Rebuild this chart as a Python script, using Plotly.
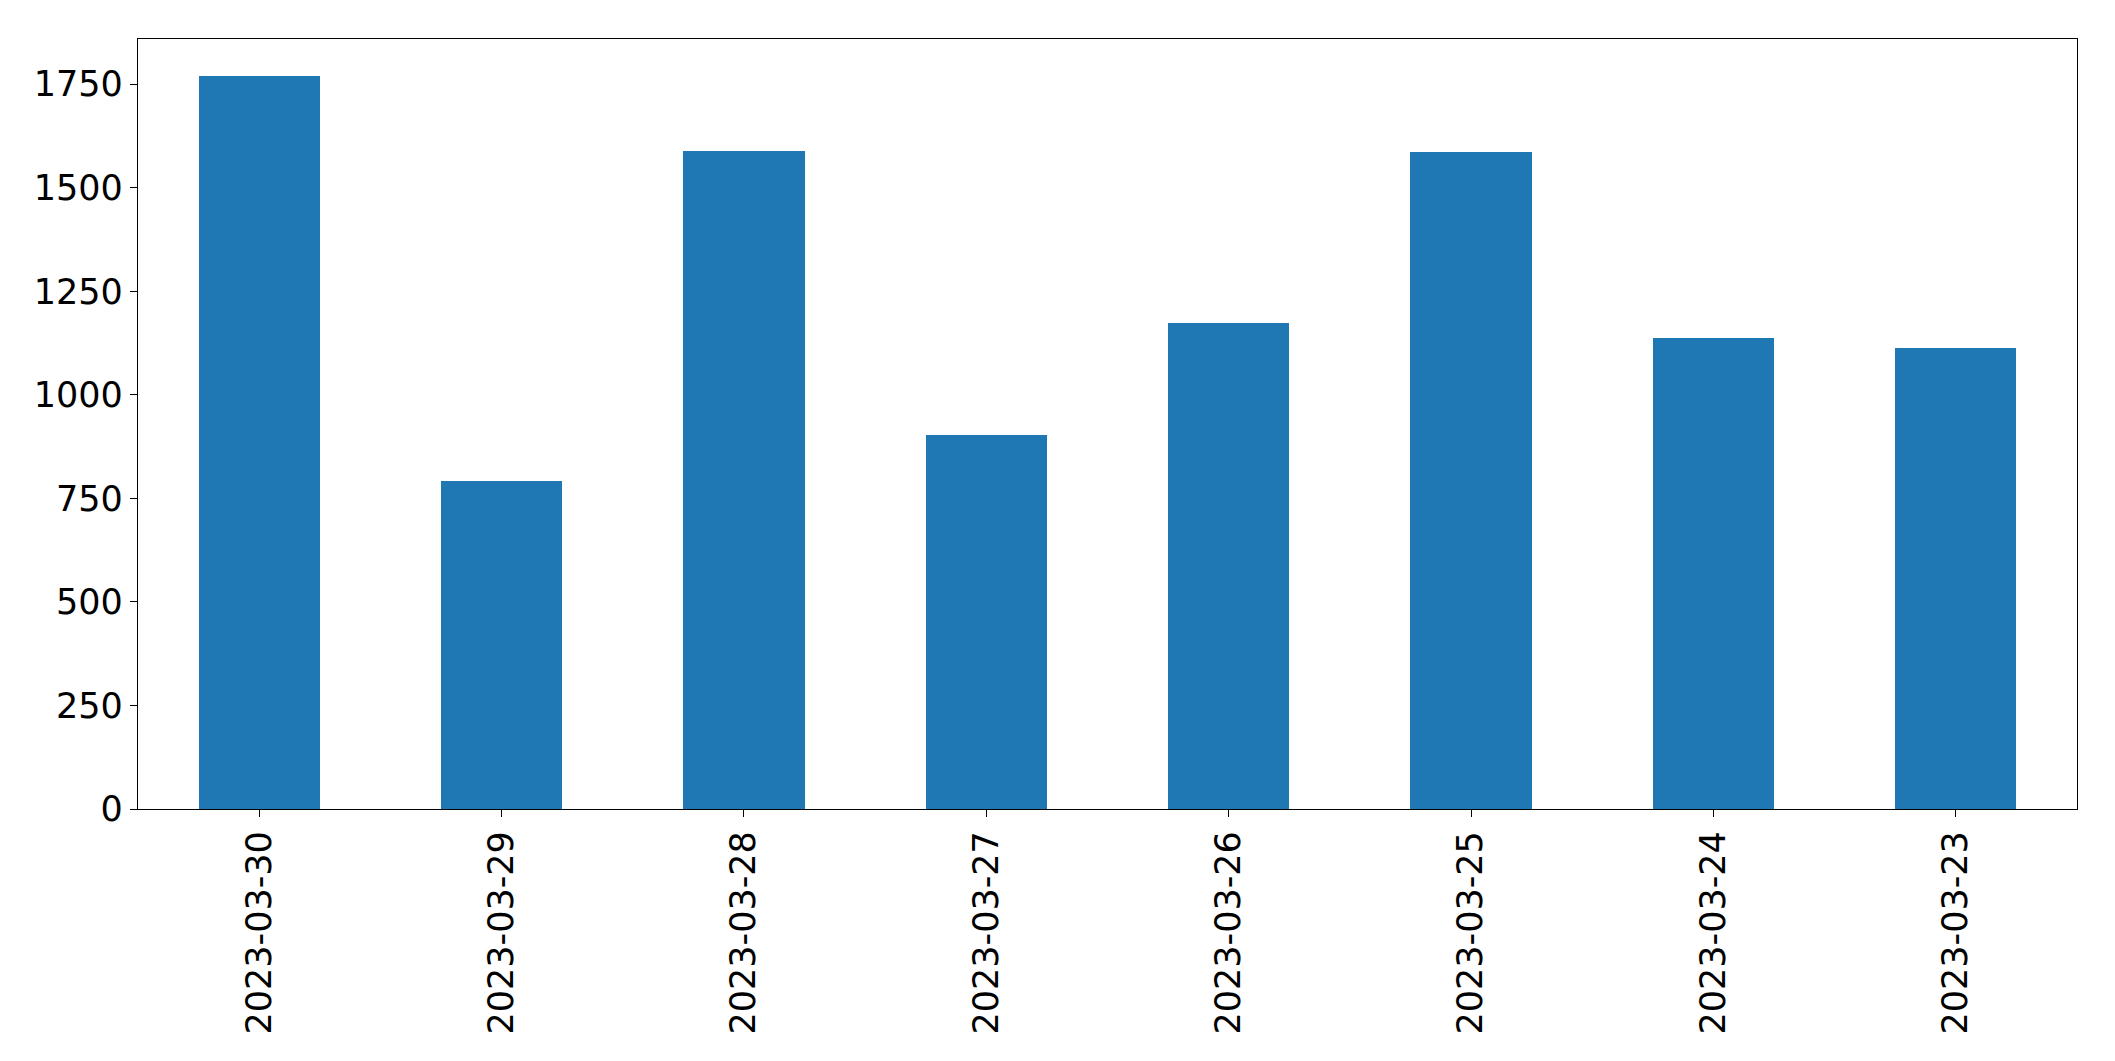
import plotly.graph_objects as go

dates = ["2023-03-30", "2023-03-29", "2023-03-28", "2023-03-27",
         "2023-03-26", "2023-03-25", "2023-03-24", "2023-03-23"]
values = [1770, 792, 1589, 903, 1173, 1586, 1137, 1113]
y_ticks = [0, 250, 500, 750, 1000, 1250, 1500, 1750]

fig = go.Figure(go.Bar(
    x=dates, y=values, width=0.5,
    marker=dict(color="#1f77b4", line=dict(width=0)),
))

axis_font = dict(family="DejaVu Sans", size=35, color="black")
fig.update_layout(
    width=2115, height=1061,
    margin=dict(l=130, r=46, t=31, b=260),
    paper_bgcolor="white", plot_bgcolor="white",
    showlegend=False,
    bargap=0,
)
fig.update_xaxes(
    type="category", range=[-0.5, 7.5],
    tickangle=-90, tickfont=axis_font,
    showline=True, linecolor="black", linewidth=1.3, mirror=True,
    ticks="outside", ticklen=7, tickwidth=1.3, tickcolor="black",
    showgrid=False, zeroline=False,
)
fig.update_yaxes(
    range=[0, 1859], tickvals=y_ticks, ticktext=[str(v) for v in y_ticks],
    tickfont=axis_font,
    showline=True, linecolor="black", linewidth=1.3, mirror=True,
    ticks="outside", ticklen=7, tickwidth=1.3, tickcolor="black",
    showgrid=False, zeroline=False,
)
fig.write_html("out.html")
